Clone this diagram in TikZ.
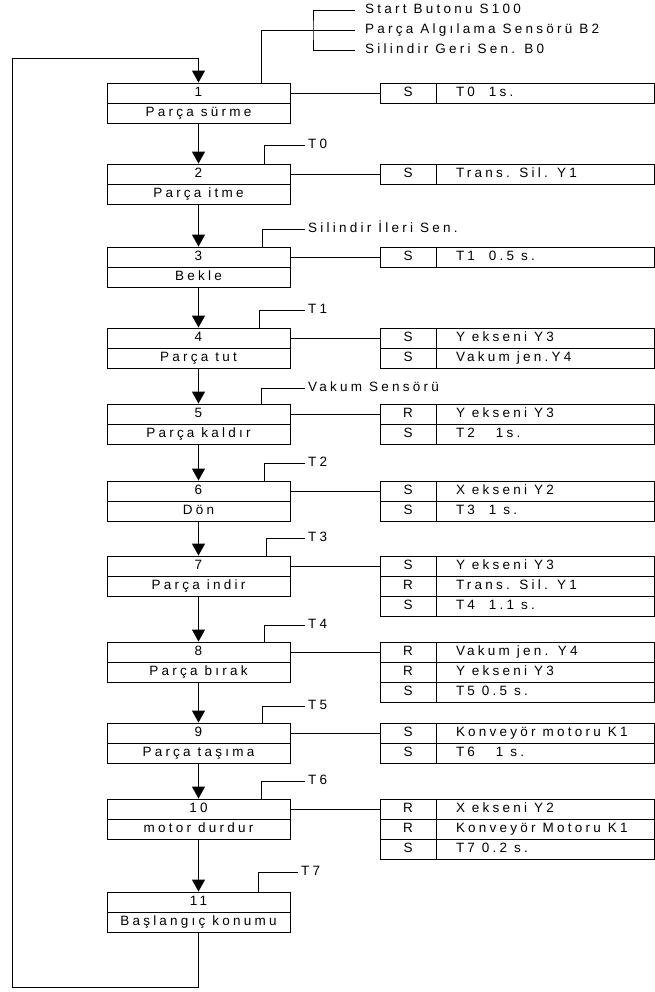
\documentclass[tikz,border=0pt]{standalone}
\usepackage{fontspec}
\setmainfont{Liberation Sans}[LetterSpace=24]
\usetikzlibrary{arrows.meta}
\begin{document}
\begin{tikzpicture}[x=1pt,y=-1pt,
  every node/.style={font=\fontsize{13.5}{15}\selectfont, inner sep=0pt, text height=10pt, text depth=3pt},
  stepcell/.style={draw, line width=0.9pt, fill=white, minimum width=183pt, minimum height=20pt},
  opcell/.style={draw, line width=0.9pt, fill=white, minimum width=56pt, minimum height=20pt},
  actcell/.style={draw, line width=0.9pt, fill=white, minimum width=218pt, minimum height=20pt},
  lbl/.style={anchor=west, inner xsep=3pt},
  flow/.style={line width=1.2pt, -{Triangle[width=13pt,length=12pt]}},
  wire/.style={line width=0.9pt},
]
\fill[white] (0,0) rectangle (655,992);
\useasboundingbox (0,0) rectangle (655,992);

% ---- step boxes ----
\node[stepcell] (n1) at (198.5,93) {1};
\node[stepcell] (t1) at (198.5,113) {Parça sürme};
\node[stepcell] (n2) at (198.5,174) {2};
\node[stepcell] (t2) at (198.5,194) {Parça itme};
\node[stepcell] (n3) at (198.5,257) {3};
\node[stepcell] (t3) at (198.5,277) {Bekle};
\node[stepcell] (n4) at (198.5,338) {4};
\node[stepcell] (t4) at (198.5,358) {Parça tut};
\node[stepcell] (n5) at (198.5,414) {5};
\node[stepcell] (t5) at (198.5,434) {Parça kaldır};
\node[stepcell] (n6) at (198.5,491) {6};
\node[stepcell] (t6) at (198.5,511) {Dön};
\node[stepcell] (n7) at (198.5,566) {7};
\node[stepcell] (t7) at (198.5,586) {Parça indir};
\node[stepcell] (n8) at (198.5,652) {8};
\node[stepcell] (t8) at (198.5,672) {Parça bırak};
\node[stepcell] (n9) at (198.5,733) {9};
\node[stepcell] (t9) at (198.5,753) {Parça taşıma};
\node[stepcell] (n10) at (198.5,809) {10};
\node[stepcell] (t10) at (198.5,829) {motor durdur};
\node[stepcell] (n11) at (198.5,902) {11};
\node[stepcell] (t11) at (198.5,922) {Başlangıç konumu};

% ---- action boxes ----
\newcommand\actrow[4]{%
  \node[opcell] (#1o) at (408,#2) {#3};
  \node[actcell] (#1x) at (545,#2) {\makebox[178pt][l]{#4}};}
\actrow{a1}{93}{S}{T0\ \ 1s.}
\actrow{a2}{174}{S}{Trans. Sil. Y1}
\actrow{a3}{257}{S}{T1\ \ 0.5 s.}
\actrow{a4}{338}{S}{Y ekseni Y3}
\actrow{a4b}{358}{S}{Vakum jen.Y4}
\actrow{a5}{414}{R}{Y ekseni Y3}
\actrow{a5b}{434}{S}{T2\ \ \ 1s.}
\actrow{a6}{491}{S}{X ekseni Y2}
\actrow{a6b}{511}{S}{T3\ \ 1 s.}
\actrow{a7}{566}{S}{Y ekseni Y3}
\actrow{a7b}{586}{R}{Trans. Sil. Y1}
\actrow{a7c}{606}{S}{T4\ \ 1.1 s.}
\actrow{a8}{652}{R}{Vakum jen. Y4}
\actrow{a8b}{672}{R}{Y ekseni Y3}
\actrow{a8c}{692}{S}{T5\ 0.5 s.}
\actrow{a9}{733}{S}{Konveyör motoru K1}
\actrow{a9b}{753}{S}{T6\ \ \ 1 s.}
\actrow{a10}{809}{R}{X ekseni Y2}
\actrow{a10b}{829}{R}{Konveyör Motoru K1}
\actrow{a10c}{849}{S}{T7\ 0.2 s.}

\foreach \i in {1,...,10} {\draw[wire] (n\i.east) -- (a\i o.west);}

% ---- transition conditions ----
\node[lbl, inner xsep=10pt] (g1) at (355,10) {Start Butonu S100};
\node[lbl, inner xsep=10pt] (g2) at (355,30) {Parça Algılama Sensörü B2};
\node[lbl, inner xsep=10pt] (g3) at (355,50) {Silindir Geri Sen. B0};
\coordinate (bk) at (313,30);
\draw[wire] (g1.west) -| (bk) |- (g3.west);
\draw[wire] ([xshift=62.5pt]n1.north) |- (g2.west);

\node[lbl] (c2) at (305,145) {T0};
\node[lbl] (c3) at (305,229) {Silindir İleri Sen.};
\node[lbl] (c4) at (305,310) {T1};
\node[lbl] (c5) at (305,388) {Vakum Sensörü};
\node[lbl] (c6) at (305,463) {T2};
\node[lbl] (c7) at (305,538) {T3};
\node[lbl] (c8) at (305,625) {T4};
\node[lbl] (c9) at (305,706) {T5};
\node[lbl] (c10) at (305,781) {T6};
\node[lbl] (c11) at (298,872) {T7};
\draw[wire] ([xshift=65.5pt]n2.north) |- (c2.west);
\draw[wire] ([xshift=63.5pt]n3.north) |- (c3.west);
\draw[wire] ([xshift=60.5pt]n4.north) |- (c4.west);
\draw[wire] ([xshift=62.5pt]n5.north) |- (c5.west);
\draw[wire] ([xshift=65.5pt]n6.north) |- (c6.west);
\draw[wire] ([xshift=67.5pt]n7.north) |- (c7.west);
\draw[wire] ([xshift=65.5pt]n8.north) |- (c8.west);
\draw[wire] ([xshift=63.5pt]n9.north) |- (c9.west);
\draw[wire] ([xshift=62.5pt]n10.north) |- (c10.west);
\draw[wire] ([xshift=59.5pt]n11.north) |- (c11.west);

% ---- flow ----
\foreach \i [evaluate=\i as \j using int(\i+1)] in {1,...,10} {\draw[flow] (t\i.south) -- (n\j.north);}
\coordinate (lb) at (12,987);
\coordinate (lt) at (12,59);
\draw[flow, line width=1pt] (t11.south) |- (lb) -- (lt) -| (n1.north);
\end{tikzpicture}
\end{document}
